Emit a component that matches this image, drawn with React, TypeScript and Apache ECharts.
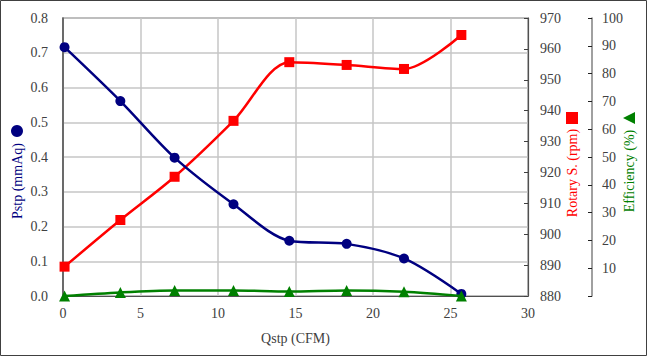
import React, { useEffect, useRef } from "react";
import * as echarts from "echarts";

const qstp = [0.1, 3.7, 7.2, 11.0, 14.6, 18.3, 22.0, 25.7];
const pstp = [0.716, 0.561, 0.398, 0.264, 0.159, 0.150, 0.108, 0.006];
const rotary = [889.5, 904.6, 918.6, 936.7, 955.7, 954.8, 953.5, 964.5];
const efficiency = [0, 1.3, 2.0, 2.0, 1.6, 2.0, 1.5, 0];

const FONT = "Liberation Serif";
const NAVY = "#000080";
const RED = "#ff0000";
const GREEN = "#008000";
const LABEL = "#404040";
const GRIDC = "#c6c6c6";

export default function App() {
  const ref = useRef<HTMLDivElement>(null);
  useEffect(() => {
    if (!ref.current) return;
    const chart = echarts.init(ref.current, null, { renderer: "svg" });
    const pair = (ys: number[]) => qstp.map((x, i) => [x, ys[i]]);
    const labelStyle = { color: LABEL, fontFamily: FONT, fontSize: 14 };
    chart.setOption({
      animation: false,
      backgroundColor: "#ffffff",
      textStyle: { fontFamily: FONT },
      grid: {
        left: 63,
        right: 119,
        top: 18,
        bottom: 60,
        show: true,
        borderColor: "#505050",
        borderWidth: 1.2,
      },
      xAxis: {
        type: "value",
        min: 0,
        max: 30,
        interval: 5,
        name: "Qstp (CFM)",
        nameLocation: "middle",
        nameGap: 35,
        nameTextStyle: { color: LABEL, fontFamily: FONT, fontSize: 14 },
        axisLine: { show: true, lineStyle: { color: "#505050", width: 1.2 } },
        axisTick: { show: false },
        axisLabel: { ...labelStyle, margin: 10 },
        splitLine: { show: true, lineStyle: { color: GRIDC, width: 1.5 } },
      },
      yAxis: [
        {
          type: "value",
          min: 0,
          max: 0.8,
          interval: 0.1,
          axisLine: { show: true, lineStyle: { color: "#505050", width: 1.5 } },
          axisTick: { show: false },
          axisLabel: {
            ...labelStyle,
            margin: 15,
            formatter: (v: number) => v.toFixed(1),
          },
          splitLine: { show: true, lineStyle: { color: GRIDC, width: 1.5 } },
        },
        {
          type: "value",
          position: "right",
          min: 880,
          max: 970,
          interval: 10,
          axisLine: { show: true, lineStyle: { color: "#505050", width: 1.2 } },
          axisTick: { show: true, inside: true, length: 4, lineStyle: { color: "#404040" } },
          axisLabel: { ...labelStyle, margin: 12 },
          splitLine: { show: false },
        },
        {
          type: "value",
          position: "right",
          offset: 64,
          min: 0,
          max: 100,
          interval: 10,
          axisLine: { show: true, lineStyle: { color: "#808080", width: 1.5 } },
          axisTick: { show: true, inside: true, length: 4, lineStyle: { color: "#202020" } },
          axisLabel: {
            ...labelStyle,
            margin: 10,
            formatter: (v: number) => (v === 0 ? "" : String(v)),
          },
          splitLine: { show: false },
        },
      ],
      series: [
        {
          type: "line",
          yAxisIndex: 0,
          data: pair(pstp),
          smooth: 0.3,
          symbol: "circle",
          symbolSize: 10,
          lineStyle: { color: NAVY, width: 2.5 },
          itemStyle: { color: NAVY },
          z: 3,
        },
        {
          type: "line",
          yAxisIndex: 1,
          data: pair(rotary),
          smooth: 0.3,
          symbol: "rect",
          symbolSize: 10,
          lineStyle: { color: RED, width: 2.5 },
          itemStyle: { color: RED },
          z: 2,
        },
        {
          type: "line",
          yAxisIndex: 2,
          data: pair(efficiency),
          smooth: 0.3,
          symbol: "triangle",
          symbolSize: 11,
          lineStyle: { color: GREEN, width: 2.5 },
          itemStyle: { color: GREEN },
          z: 4,
        },
      ],
      graphic: [
        {
          type: "rect",
          shape: { x: 0.5, y: 0.5, width: 646, height: 355 },
          style: { fill: "none", stroke: "#404040", lineWidth: 1 },
          silent: true,
        },
        {
          type: "text",
          x: 17,
          y: 181,
          rotation: Math.PI / 2,
          style: {
            text: "Pstp (mmAq)",
            fill: NAVY,
            fontFamily: FONT,
            fontSize: 14,
            align: "center",
            verticalAlign: "middle",
          },
        },
        {
          type: "circle",
          shape: { cx: 17, cy: 131, r: 6 },
          style: { fill: NAVY },
        },
        {
          type: "text",
          x: 572,
          y: 173,
          rotation: Math.PI / 2,
          style: {
            text: "Rotary S. (rpm)",
            fill: RED,
            fontFamily: FONT,
            fontSize: 14,
            align: "center",
            verticalAlign: "middle",
          },
        },
        {
          type: "rect",
          shape: { x: 566, y: 112, width: 12, height: 12 },
          style: { fill: RED },
        },
        {
          type: "text",
          x: 629,
          y: 171,
          rotation: Math.PI / 2,
          style: {
            text: "Efficiency (%)",
            fill: GREEN,
            fontFamily: FONT,
            fontSize: 14,
            align: "center",
            verticalAlign: "middle",
          },
        },
        {
          type: "polygon",
          shape: { points: [[623, 118], [635, 112], [635, 124]] },
          style: { fill: GREEN },
        },
      ],
    });
    return () => chart.dispose();
  }, []);
  return (
    <div
      ref={ref}
      style={{ position: "fixed", left: 0, top: 0, width: 647, height: 356 }}
    />
  );
}
